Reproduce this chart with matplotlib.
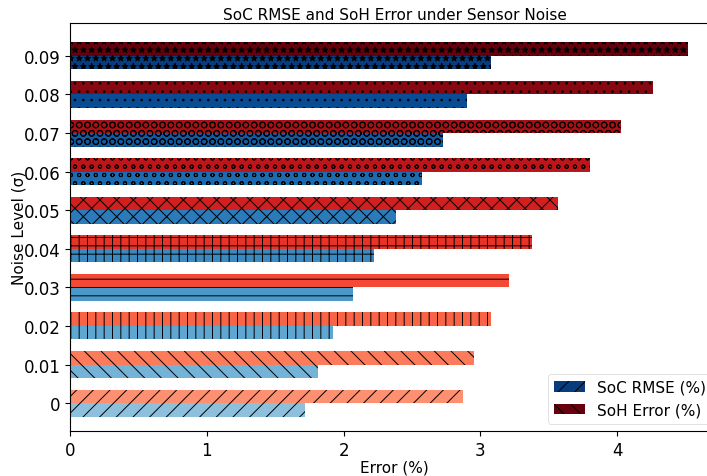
import matplotlib
matplotlib.use("Agg")
import matplotlib.pyplot as plt
import numpy as np
from matplotlib.patches import Patch

noise_levels = ["0", "0.01", "0.02", "0.03", "0.04", "0.05", "0.06", "0.07", "0.08", "0.09"]
soc_rmse = [1.72, 1.81, 1.92, 2.07, 2.22, 2.38, 2.57, 2.73, 2.90, 3.08]
soh_error = [2.87, 2.95, 3.08, 3.21, 3.38, 3.57, 3.80, 4.03, 4.26, 4.52]
hatches = ["/", "\\", "|", "-", "+", "x", "o", "O", ".", "*"]

blues = plt.cm.Blues(np.linspace(0.42, 0.95, len(noise_levels)))
reds = plt.cm.Reds(np.linspace(0.38, 1.0, len(noise_levels)))

# drawn at half dpi on a double-size canvas so the hatches come out denser
s = 2
plt.rcParams["hatch.linewidth"] = 1.4
plt.rcParams["axes.linewidth"] = 0.8 * s
plt.rcParams["xtick.major.width"] = 0.8 * s
plt.rcParams["ytick.major.width"] = 0.8 * s
plt.rcParams["xtick.major.size"] = 3.5 * s
plt.rcParams["ytick.major.size"] = 3.5 * s
plt.rcParams["xtick.major.pad"] = 3.5 * s
plt.rcParams["ytick.major.pad"] = 3.5 * s

fig = plt.figure(figsize=(7.07 * s, 4.77 * s), dpi=100 / s)
ax = fig.add_axes([0.099, 0.094, 0.919, 0.855])

y = np.arange(len(noise_levels))
h = 0.35
for i in range(len(noise_levels)):
    ax.barh(y[i] - h / 2, soc_rmse[i], height=h, color=blues[i],
            hatch=hatches[i], edgecolor="black", linewidth=0)
    ax.barh(y[i] + h / 2, soh_error[i], height=h, color=reds[i],
            hatch=hatches[i], edgecolor="black", linewidth=0)

ax.set_ylim(-0.726, 9.843)
ax.set_xlim(0, 4.75)
ax.set_yticks(y)
ax.set_yticklabels(noise_levels, fontsize=12 * s)
ax.tick_params(axis="x", labelsize=12 * s)
ax.set_xlabel("Error (%)", fontsize=11 * s, labelpad=0.5 * s)
ax.set_ylabel("Noise Level (σ)", fontsize=11 * s, labelpad=-2 * s)
ax.set_title("SoC RMSE and SoH Error under Sensor Noise", fontsize=11 * s, pad=3 * s)
ax.spines["right"].set_visible(False)

handles = [
    Patch(facecolor=blues[-1], hatch="/", edgecolor="black", linewidth=0, label="SoC RMSE (%)"),
    Patch(facecolor=reds[-1], hatch="\\", edgecolor="black", linewidth=0, label="SoH Error (%)"),
]
ax.legend(handles=handles, loc="lower right", fontsize=11 * s)

fig.savefig("out.png", dpi=100 / s)
